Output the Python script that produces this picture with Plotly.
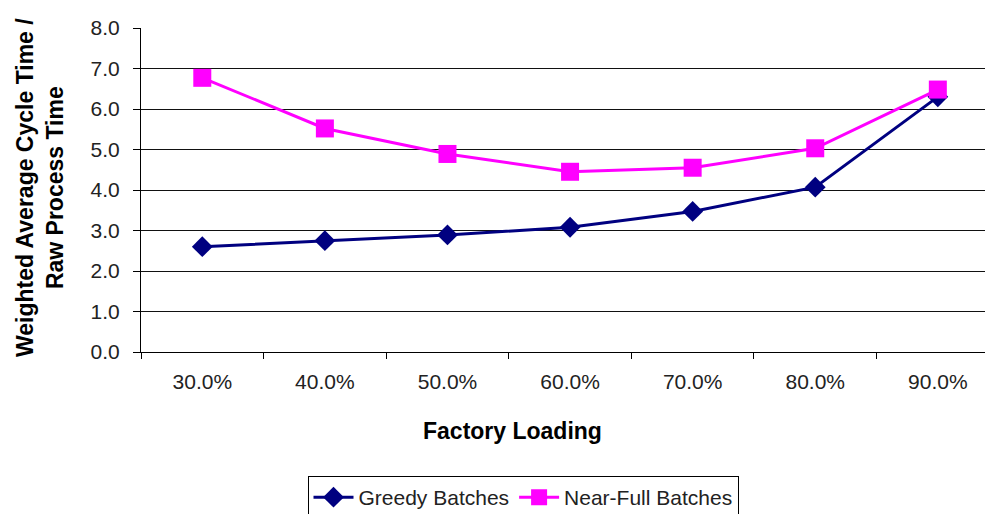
import plotly.graph_objects as go

categories = ["30.0%", "40.0%", "50.0%", "60.0%", "70.0%", "80.0%", "90.0%"]
greedy = [2.60, 2.75, 2.89, 3.08, 3.47, 4.07, 6.30]
near_full = [6.77, 5.52, 4.89, 4.45, 4.55, 5.03, 6.48]
y_ticks = [0, 1, 2, 3, 4, 5, 6, 7, 8]

FONT = "Liberation Sans, Arial, sans-serif"
OFF = 8  # page body margin offset

fig = go.Figure()
fig.add_trace(go.Scatter(
    x=categories, y=greedy, name="Greedy Batches", mode="lines+markers",
    line=dict(color="#000080", width=3),
    marker=dict(symbol="diamond", size=16, color="#000080"),
))
fig.add_trace(go.Scatter(
    x=categories, y=near_full, name="Near-Full Batches", mode="lines+markers",
    line=dict(color="#FF00FF", width=3),
    marker=dict(symbol="square", size=18, color="#FF00FF"),
))

fig.update_layout(
    width=993, height=514,
    margin=dict(l=141 - OFF, r=OFF, t=20 - OFF, b=162 + OFF),
    paper_bgcolor="white", plot_bgcolor="white",
    font=dict(family=FONT, size=21, color="#222"),
    showlegend=True,
    legend=dict(
        orientation="h", xref="container", yref="container",
        x=(523 - OFF) / 993, xanchor="center", y=1 - (476 - OFF) / 514, yanchor="top",
        bordercolor="black", borderwidth=1, bgcolor="white",
        font=dict(family=FONT, size=21, color="#222"),
        itemwidth=40,
    ),
    xaxis=dict(
        type="category", range=[-0.5, 6.45],
        tickson="boundaries", ticks="outside", ticklen=6, tickcolor="black",
        showline=True, linecolor="black", linewidth=1,
        showgrid=False, ticklabelstandoff=11,
        tickfont=dict(family=FONT, size=21, color="#222"),
    ),
    yaxis=dict(
        range=[0, 8], tickvals=y_ticks, tickformat=".1f",
        ticks="outside", ticklen=7, tickcolor="black",
        showline=True, linecolor="black", linewidth=1,
        showgrid=True, gridcolor="#111", gridwidth=1,
        zeroline=False, ticklabelstandoff=9,
        tickfont=dict(family=FONT, size=21, color="#222"),
    ),
    annotations=[
        dict(text="<b>Factory Loading</b>", xref="paper", yref="paper",
             x=(512 - 141) / 852, y=(352 - 433) / 332,
             xanchor="center", yanchor="middle", showarrow=False,
             font=dict(family=FONT, size=23, color="black")),
        dict(text="<b>Weighted Average Cycle Time /<br>Raw Process Time</b>",
             xref="paper", yref="paper",
             x=(40 - 141) / 852, y=(352 - 184) / 332,
             xanchor="center", yanchor="middle", showarrow=False,
             textangle=-90,
             font=dict(family=FONT, size=23, color="black")),
    ],
)

fig.write_html("out.html")
